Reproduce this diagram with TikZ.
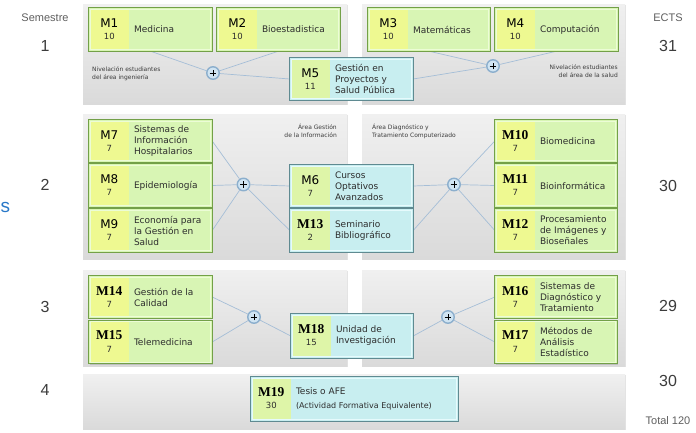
\documentclass[tikz,border=0pt]{standalone}
\usepackage{fontspec}
\setmainfont{DejaVu Sans}
\newfontfamily\arialf{Liberation Sans}
\newfontfamily\seriff{Liberation Serif}
\usetikzlibrary{shadows}

\definecolor{gfill}{RGB}{216,245,180}
\definecolor{gcell}{RGB}{238,249,145}
\definecolor{gedge}{RGB}{115,160,72}
\definecolor{ghigh}{RGB}{236,252,214}
\definecolor{bfill}{RGB}{200,238,240}
\definecolor{bcell}{RGB}{222,245,168}
\definecolor{bedge}{RGB}{95,138,145}
\definecolor{bhigh}{RGB}{230,250,252}
\definecolor{ptop}{RGB}{240,240,240}
\definecolor{pbot}{RGB}{218,218,218}
\definecolor{lnk}{RGB}{165,190,215}
\definecolor{plusfill}{RGB}{208,228,242}
\definecolor{plusedge}{RGB}{140,175,205}
\definecolor{sidetxt}{RGB}{95,95,95}
\definecolor{numcol}{RGB}{60,60,60}
\definecolor{bluetxt}{RGB}{40,120,200}
\definecolor{boxtxt}{RGB}{45,45,45}

\pgfdeclarelayer{panels}
\pgfdeclarelayer{links}
\pgfsetlayers{panels,links,main}

\tikzset{
  panel/.style={draw=none, inner sep=0, top color=ptop, bottom color=pbot,
    drop shadow={opacity=0.22, shadow xshift=1pt, shadow yshift=-1.2pt}},
  boxbase/.style={draw=none, inner sep=0,
    drop shadow={opacity=0.3, shadow xshift=1.2pt, shadow yshift=-1.2pt}},
  codetxt/.style={inner sep=0, font=\fontsize{12}{12}\selectfont, text=black},
  numtxt/.style={inner sep=0, font=\fontsize{8.5}{9}\selectfont, text=boxtxt},
  desctxt/.style={inner sep=0, anchor=west, align=left, font=\fontsize{9}{11}\selectfont, text=boxtxt},
  link/.style={draw=lnk, line width=0.7pt},
  plusnode/.style={circle, minimum size=12.5pt, inner sep=0, fill=plusfill, draw=plusedge, line width=1.4pt,
    path picture={\draw[black, line width=1pt]
      ([xshift=-3.4pt]path picture bounding box.center) -- ([xshift=3.4pt]path picture bounding box.center)
      ([yshift=-3.4pt]path picture bounding box.center) -- ([yshift=3.4pt]path picture bounding box.center);}},
  sidelbl/.style={inner sep=0, font=\arialf\fontsize{11}{13}\selectfont, text=sidetxt},
  semnum/.style={inner sep=0, font=\arialf\fontsize{16}{16}\selectfont, text=numcol},
  tinylbl/.style={inner sep=0, align=left, font=\fontsize{6}{8}\selectfont, text=numcol},
}

\newcommand\twocode[1]{{\seriff\bfseries\fontsize{13.5}{13.5}\selectfont #1}}

% #1 name, #2 x, #3 y, #4 w, #5 h, #6 kind (g/b), #7 code, #8 credits, #9 text
\newcommand\modbox[9]{%
  \node[boxbase, minimum width=#4pt, minimum height=#5pt, fill=#6fill] (#1) at (#2,#3) {};
  \fill[#6cell] ([shift={(1.5pt,-1.5pt)}]#1.north west) rectangle ([shift={(40pt,1.5pt)}]#1.south west);
  \draw[#6high, line width=0.9pt] ([shift={(1.3pt,-1.3pt)}]#1.north west) rectangle ([shift={(-1.3pt,1.3pt)}]#1.south east);
  \draw[#6edge, line width=0.9pt] (#1.north west) rectangle (#1.south east);
  \node[codetxt] (#1-c) at ([shift={(20.5pt,-15pt)}]#1.north west) {#7};
  \node[numtxt] (#1-n) at ([shift={(20.5pt,-29pt)}]#1.north west) {#8};
  \node[desctxt] (#1-d) at ([xshift=45pt]#1.west) {#9};
}

\begin{document}
\begin{tikzpicture}[x=1pt, y=-1pt]
\useasboundingbox (0,0) rectangle (696,432);

\begin{pgfonlayer}{panels}
\fill[white] (0,0) rectangle (696,432);
\node[panel, minimum width=264pt, minimum height=100pt] (r1l) at (215,54) {};
\node[panel, minimum width=263pt, minimum height=100pt] (r1r) at (493.5,54) {};
\node[panel, minimum width=264pt, minimum height=145pt] (r2l) at (215,186.5) {};
\node[panel, minimum width=263pt, minimum height=145pt] (r2r) at (493.5,186.5) {};
\node[panel, minimum width=264pt, minimum height=96pt] (r3l) at (215,318) {};
\node[panel, minimum width=263pt, minimum height=96pt] (r3r) at (493.5,318) {};
\node[panel, minimum width=542pt, minimum height=55pt] (r4) at (354,401.5) {};
\end{pgfonlayer}

% fragment at left edge
\node[inner sep=0, anchor=west, font=\arialf\fontsize{19}{19}\selectfont, text=bluetxt] (frag) at (0.5,207) {s};

% side labels
\node[sidelbl] (sem) at (45,18) {Semestre};
\node[semnum] (s1) at (45,46) {1};
\node[semnum] (s2) at (45,185) {2};
\node[semnum] (s3) at (45,307) {3};
\node[semnum] (s4) at (45,390) {4};
\node[sidelbl] (ects) at (668,18) {ECTS};
\node[semnum] (e1) at (668,46) {31};
\node[semnum] (e2) at (668,186) {30};
\node[semnum] (e3) at (668,306) {29};
\node[semnum] (e4) at (668,381) {30};
\node[sidelbl] (tot) at (668,421) {Total 120};

% small area labels
\node[tinylbl, anchor=west] (niv1) at (92,74) {Nivelación estudiantes\\del área ingeniería};
\node[tinylbl, anchor=east, align=right] (niv2) at (618,71) {Nivelación estudiantes\\del área de la salud};
\node[tinylbl, anchor=east, align=right] (area1) at (337,131) {Área Gestión\\de la Información};
\node[tinylbl, anchor=west] (area2) at (372,131) {Área Diagnóstico y\\Tratamiento Computerizado};

% boxes
\modbox{M1}{150.5}{29.5}{123}{43}{g}{M1}{10}{Medicina}
\modbox{M2}{278.5}{29.5}{123}{43}{g}{M2}{10}{Bioestadistica}
\modbox{M3}{429}{29.5}{122}{43}{g}{M3}{10}{Matemáticas}
\modbox{M4}{556.5}{29.5}{123}{43}{g}{M4}{10}{Computación}

\modbox{M7}{150.5}{141}{123}{42}{g}{M7}{7}{Sistemas de\\Información\\Hospitalarios}
\modbox{M8}{150.5}{185.5}{123}{43}{g}{M8}{7}{Epidemiología}
\modbox{M9}{150.5}{230.5}{123}{43}{g}{M9}{7}{Economía para\\la Gestión en\\Salud}
\modbox{M10}{556}{141}{122}{42}{g}{\twocode{M10}}{7}{Biomedicina}
\modbox{M11}{556}{185.5}{122}{43}{g}{\twocode{M11}}{7}{Bioinformática}
\modbox{M12}{556}{230.5}{122}{43}{g}{\twocode{M12}}{7}{Procesamiento\\de Imágenes y\\Bioseñales}

\modbox{M14}{150.5}{297}{123}{42}{g}{\twocode{M14}}{7}{Gestión de la\\Calidad}
\modbox{M15}{150.5}{342}{123}{43}{g}{\twocode{M15}}{7}{Telemedicina}
\modbox{M16}{556}{297}{122}{42}{g}{\twocode{M16}}{7}{Sistemas de\\Diagnóstico y\\Tratamiento}
\modbox{M17}{556}{342}{122}{43}{g}{\twocode{M17}}{7}{Métodos de\\Análisis\\Estadístico}

\modbox{M5}{351.5}{79}{123}{42}{b}{M5}{11}{Gestión en\\Proyectos y\\Salud Pública}
\modbox{M6}{351.5}{186}{123}{42}{b}{M6}{7}{Cursos\\Optativos\\Avanzados}
\modbox{M13}{351.5}{230.5}{123}{43}{b}{\twocode{M13}}{2}{Seminario\\Bibliográfico}
\modbox{M18}{352}{336}{122}{44}{b}{\twocode{M18}}{15}{Unidad de\\Investigación}
\modbox{M19}{354.5}{399}{207}{44}{b}{\twocode{M19}}{30}{Tesis o AFE\\[3pt]{\fontsize{8}{9}\selectfont(Actividad Formativa Equivalente)}}

% plus nodes
\node[plusnode] (p1l) at (213,73) {};
\node[plusnode] (p1r) at (493,66) {};
\node[plusnode] (p2l) at (243.5,184.5) {};
\node[plusnode] (p2r) at (454,184.5) {};
\node[plusnode] (p3l) at (254,317) {};
\node[plusnode] (p3r) at (448,317) {};

% connectors
\begin{pgfonlayer}{links}
\draw[link] (M1.south) -- (p1l) (M2.south) -- (p1l) (p1l) -- (M5.west);
\draw[link] (M3.south) -- (p1r) (M4.south) -- (p1r) (p1r) -- (M5.east);
\draw[link] (M7.east) -- (p2l) (M8.east) -- (p2l) (M9.east) -- (p2l)
            (p2l) -- (M6.west) (p2l) -- (M13.west);
\draw[link] (M10.west) -- (p2r) (M11.west) -- (p2r) (M12.west) -- (p2r)
            (p2r) -- (M6.east) (p2r) -- (M13.east);
\draw[link] (M14.east) -- (p3l) (M15.east) -- (p3l) (p3l) -- (M18.west);
\draw[link] (M16.west) -- (p3r) (M17.west) -- (p3r) (p3r) -- (M18.east);
\end{pgfonlayer}
\end{tikzpicture}
\end{document}
